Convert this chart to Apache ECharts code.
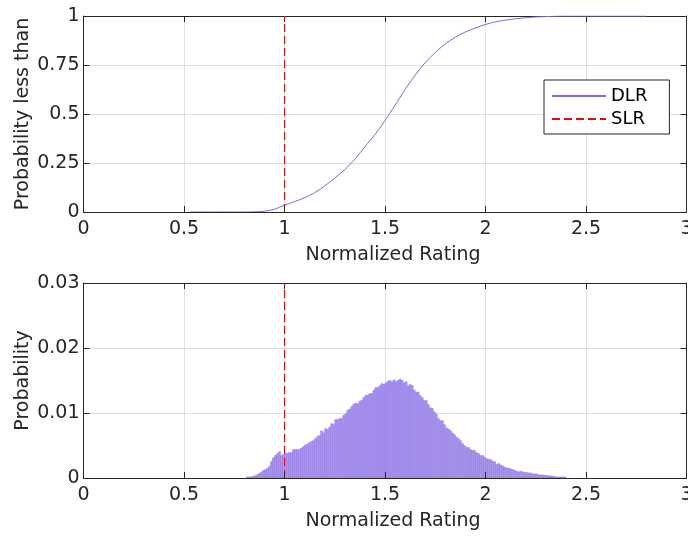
<!DOCTYPE html>
<html>
<head>
<meta charset="utf-8">
<script src="https://cdn.jsdelivr.net/npm/echarts@6/dist/echarts.min.js"></script>
<style>
  html, body { margin: 0; padding: 0; background: #ffffff; }
  #chart { width: 688px; height: 538px; }
</style>
</head>
<body>
<div id="chart"></div>
<script>
// Cumulative distribution of the dynamic line rating (normalized to the static rating)
const cdfRating = [0.53, 0.6, 0.7, 0.8, 0.85, 0.9, 0.95, 1.0, 1.05, 1.1, 1.15, 1.2, 1.25, 1.3, 1.35,
  1.4, 1.45, 1.5, 1.55, 1.6, 1.65, 1.7, 1.75, 1.8, 1.85, 1.9, 1.95, 2.0, 2.05, 2.1, 2.15, 2.2,
  2.25, 2.3, 2.35, 2.4, 2.5, 2.6, 2.7, 2.8];
const cdfProbability = [0, 0, 0, 0, 0.001, 0.004, 0.014, 0.035, 0.053, 0.073, 0.098, 0.133, 0.173,
  0.216, 0.270, 0.333, 0.395, 0.467, 0.545, 0.625, 0.698, 0.762, 0.814, 0.858, 0.892, 0.919,
  0.939, 0.957, 0.970, 0.979, 0.986, 0.991, 0.995, 0.997, 0.999, 1.0, 1.0, 1.0, 1.0, 1.0];

// Static line rating (normalized)
const slrRating = 1;

// Histogram of the normalized dynamic rating: first bin edge, bin width, probability per bin
const binStart = 0.81;
const binWidth = 0.01;
const binProbability = [
  0.00015, 0.00015, 0.00020, 0.00025, 0.00036, 0.00050, 0.00067, 0.00087, 0.00113, 0.00128,
  0.00144, 0.00174, 0.00250, 0.00308, 0.00344, 0.00374, 0.00405, 0.00344, 0.00360, 0.00374,
  0.00380, 0.00390, 0.00390, 0.00436, 0.00436, 0.00436, 0.00436, 0.00456, 0.00482, 0.00508,
  0.00518, 0.00544, 0.00559, 0.00574, 0.00605, 0.00636, 0.00651, 0.00723, 0.00692, 0.00759,
  0.00744, 0.00780, 0.00836, 0.00820, 0.00897, 0.00897, 0.00913, 0.00913, 0.00964, 0.00985,
  0.01040, 0.01060, 0.01097, 0.01133, 0.01150, 0.01140, 0.01180, 0.01195, 0.01236, 0.01270,
  0.01270, 0.01297, 0.01297, 0.01350, 0.01390, 0.01390, 0.01420, 0.01450, 0.01440, 0.01460,
  0.01487, 0.01497, 0.01477, 0.01508, 0.01480, 0.01497, 0.01520, 0.01497, 0.01460, 0.01480,
  0.01410, 0.01436, 0.01420, 0.01350, 0.01320, 0.01320, 0.01267, 0.01236, 0.01190, 0.01190,
  0.01128, 0.01080, 0.01067, 0.01015, 0.00980, 0.00913, 0.00880, 0.00880, 0.00820, 0.00770,
  0.00754, 0.00728, 0.00692, 0.00667, 0.00626, 0.00605, 0.00574, 0.00528, 0.00497, 0.00467,
  0.00467, 0.00436, 0.00426, 0.00420, 0.00390, 0.00374, 0.00344, 0.00344, 0.00318, 0.00297,
  0.00287, 0.00282, 0.00256, 0.00250, 0.00205, 0.00220, 0.00200, 0.00185, 0.00164, 0.00154,
  0.00149, 0.00138, 0.00128, 0.00118, 0.00103, 0.00092, 0.00103, 0.00092, 0.00087, 0.00082,
  0.00077, 0.00077, 0.00062, 0.00062, 0.00062, 0.00046, 0.00046, 0.00046, 0.00041, 0.00036,
  0.00031, 0.00031, 0.00026, 0.00020, 0.00015, 0.00015, 0.00015, 0.00015, 0.00015
];

// Axis ranges and tick steps
const ratingAxis = { min: 0, max: 3, step: 0.5 };
const cdfAxis = { min: 0, max: 1, step: 0.25 };
const probAxis = { min: 0, max: 0.03, step: 0.01 };

const FONT = 'DejaVu Sans';
const INK = '#262626';
const GRID_LINE = '#dfdfdf';
const DLR_COLOR = '#7b68ee';
const SLR_COLOR = '#ff0000';

const cdfData = cdfRating.map((x, i) => [x, cdfProbability[i]]);
const histData = binProbability.map((p, i) => [binStart + i * binWidth, binStart + (i + 1) * binWidth, p]);

function xAxes(gridIndex) {
  const common = {
    gridIndex, type: 'value', min: ratingAxis.min, max: ratingAxis.max, interval: ratingAxis.step,
    axisLine: { show: true, onZero: false, lineStyle: { color: INK, width: 1 } },
    axisTick: { show: true, inside: true, length: 6, lineStyle: { color: INK } }
  };
  return [
    Object.assign({}, common, {
      position: 'bottom', z: 5,
      name: 'Normalized Rating', nameLocation: 'middle', nameGap: 34,
      nameTextStyle: { fontFamily: FONT, fontSize: 19, color: INK, padding: [0, 0, 0, 16] },
      axisLabel: { fontFamily: FONT, fontSize: 19, color: INK, margin: 8 },
      splitLine: { show: false }
    }),
    Object.assign({}, common, {
      position: 'top', z: 0,
      axisLabel: { show: false },
      splitLine: { show: true, lineStyle: { color: GRID_LINE, width: 1 } }
    })
  ];
}

function yAxes(gridIndex, range, name, nameGap) {
  const common = {
    gridIndex, type: 'value', min: range.min, max: range.max, interval: range.step,
    axisLine: { show: true, onZero: false, lineStyle: { color: INK, width: 1 } },
    axisTick: { show: true, inside: true, length: 6, lineStyle: { color: INK } }
  };
  return [
    Object.assign({}, common, {
      position: 'left', z: 5,
      name, nameLocation: 'middle', nameGap, nameMoveOverlap: false,
      nameTextStyle: { fontFamily: FONT, fontSize: 19, color: INK },
      axisLabel: { fontFamily: FONT, fontSize: 19, color: INK, margin: 4 },
      splitLine: { show: false }
    }),
    Object.assign({}, common, {
      position: 'right', z: 0,
      axisLabel: { show: false },
      splitLine: { show: true, lineStyle: { color: GRID_LINE, width: 1 } }
    })
  ];
}

const chart = echarts.init(document.getElementById('chart'), null, { renderer: 'canvas' });

chart.setOption({
  animation: false,
  backgroundColor: '#ffffff',
  grid: [
    { left: 83.5, top: 16, width: 603, height: 196, containLabel: false, outerBoundsMode: 'none' },
    { left: 83.5, top: 283, width: 603, height: 195, containLabel: false, outerBoundsMode: 'none' }
  ],
  xAxis: [...xAxes(0), ...xAxes(1)],
  yAxis: [
    ...yAxes(0, cdfAxis, 'Probability less than', 51),
    ...yAxes(1, probAxis, 'Probability', 51)
  ],
  legend: {
    orient: 'vertical', left: 544, top: 80,
    data: ['DLR', 'SLR'],
    itemWidth: 54, itemHeight: 14, itemGap: 3,
    padding: [6, 22, 5, 7],
    borderColor: INK, borderWidth: 1, backgroundColor: '#ffffff',
    selectedMode: false,
    itemStyle: { color: 'rgba(0,0,0,0)', borderWidth: 0 },
    textStyle: { fontFamily: FONT, fontSize: 18, color: '#000000', lineHeight: 20 }
  },
  series: [
    {
      name: 'DLR', type: 'line', xAxisIndex: 0, yAxisIndex: 0,
      data: cdfData, smooth: 0.3, symbol: 'none', showSymbol: false,
      lineStyle: { color: DLR_COLOR, width: 1 }, itemStyle: { color: DLR_COLOR }, z: 3
    },
    {
      name: 'SLR', type: 'line', xAxisIndex: 0, yAxisIndex: 0,
      data: [[slrRating, cdfAxis.min], [slrRating, cdfAxis.max]], symbol: 'none', showSymbol: false,
      lineStyle: { color: SLR_COLOR, width: 1, type: [8, 4] }, itemStyle: { color: SLR_COLOR }, z: 4
    },
    {
      name: 'DLR', type: 'custom', xAxisIndex: 2, yAxisIndex: 2,
      data: histData, encode: { x: [0, 1], y: 2 },
      renderItem(params, api) {
        const lo = api.coord([api.value(0), 0]);
        const hi = api.coord([api.value(1), api.value(2)]);
        return {
          type: 'rect',
          shape: { x: lo[0], y: hi[1], width: hi[0] - lo[0], height: lo[1] - hi[1] },
          style: { fill: '#ab98ec', stroke: '#9479e4', lineWidth: 0.6 }
        };
      },
      z: 2
    },
    {
      name: 'SLR', type: 'line', xAxisIndex: 2, yAxisIndex: 2,
      data: [[slrRating, probAxis.min], [slrRating, probAxis.max]], symbol: 'none', showSymbol: false,
      lineStyle: { color: SLR_COLOR, width: 1, type: [8, 4] }, itemStyle: { color: SLR_COLOR }, z: 4
    }
  ]
});
</script>
</body>
</html>
